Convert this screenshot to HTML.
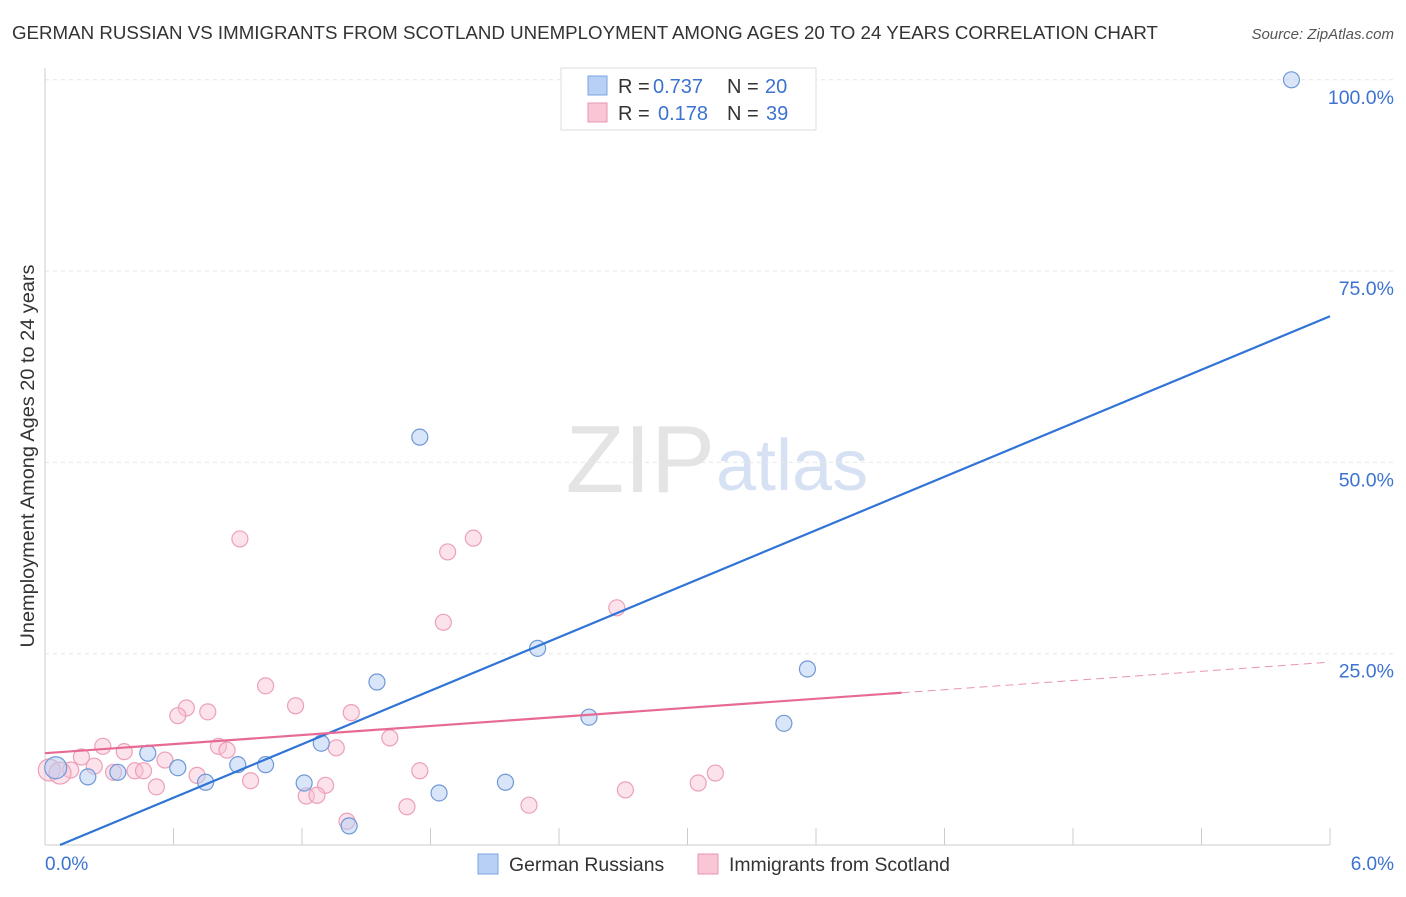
<!DOCTYPE html>
<html><head><meta charset="utf-8"><style>
body{margin:0;background:#fff;font-family:"Liberation Sans",sans-serif}
svg text{font-family:"Liberation Sans",sans-serif}
</style></head><body>
<svg width="1406" height="892" xmlns="http://www.w3.org/2000/svg">
<text x="12" y="39" font-size="18.6" fill="#333" textLength="1146" lengthAdjust="spacingAndGlyphs">GERMAN RUSSIAN VS IMMIGRANTS FROM SCOTLAND UNEMPLOYMENT AMONG AGES 20 TO 24 YEARS CORRELATION CHART</text>
<text x="1394" y="39" font-size="15" fill="#555" font-style="italic" text-anchor="end">Source: ZipAtlas.com</text>
<text x="715" y="492" font-size="96" fill="#e4e4e4" text-anchor="end" font-family="Liberation Serif">ZIP</text>
<text x="716" y="490" font-size="72" fill="#d6e2f3">atlas</text>
<g id="grid"></g><g id="axes"></g><g id="marks"></g>
<text transform="translate(34,456) rotate(-90)" font-size="19" fill="#333" text-anchor="middle" textLength="383" lengthAdjust="spacingAndGlyphs">Unemployment Among Ages 20 to 24 years</text>
<g>
<rect x="561" y="68" width="255" height="62" fill="#fff" stroke="#ddd"/>
<rect x="588" y="76" width="19" height="19" fill="#b8d0f3" stroke="#7aa3e0"/>
<text x="618" y="93" font-size="20" fill="#333">R =</text>
<text x="653" y="93" font-size="20" fill="#3c73d0">0.737</text>
<text x="727" y="93" font-size="20" fill="#333">N =</text>
<text x="765" y="93" font-size="20" fill="#3c73d0">20</text>
<rect x="588" y="103" width="19" height="19" fill="#f8c6d5" stroke="#e995ae"/>
<text x="618" y="120" font-size="20" fill="#333">R =</text>
<text x="658" y="120" font-size="20" fill="#3c73d0">0.178</text>
<text x="727" y="120" font-size="20" fill="#333">N =</text>
<text x="766" y="120" font-size="20" fill="#3c73d0">39</text>
</g>
<g>
<rect x="478" y="854" width="20" height="20" fill="#b8d0f3" stroke="#7aa3e0"/>
<text x="509" y="871" font-size="19.4" fill="#333">German Russians</text>
<rect x="698" y="854" width="20" height="20" fill="#f8c6d5" stroke="#e995ae"/>
<text x="729" y="871" font-size="19.4" fill="#333">Immigrants from Scotland</text>
</g>
</svg>
<script>
const xTicks=[0,0.6,1.2,1.8,2.4,3,3.6,4.2,4.8,5.4,6];
const yTicks=[25,50,75,100];
const yTickLabels=["25.0%","50.0%","75.0%","100.0%"];
const blueX=[5.82,1.75,2.30,1.55,3.56,2.54,3.45,1.29,0.48,0.62,0.90,1.03,0.34,0.20,0.75,1.21,2.15,1.84,1.42,0.05];
const blueY=[100,53.3,25.7,21.3,23.0,16.7,15.9,13.3,12.0,10.1,10.5,10.5,9.5,8.9,8.2,8.1,8.2,6.8,2.5,10.1];
const pinkX=[0.91,2.00,1.88,2.67,1.86,1.03,1.17,0.66,0.76,0.62,1.43,1.61,0.27,0.81,0.85,0.37,1.36,0.56,0.17,0.23,0.12,0.42,0.46,0.32,0.71,1.75,3.13,0.52,0.96,1.31,1.22,1.27,2.71,3.05,1.69,2.26,1.41,0.02,0.07];
const pinkY=[40.0,40.1,38.3,31.0,29.1,20.8,18.2,17.9,17.4,16.9,17.3,14.0,12.9,12.9,12.4,12.2,12.7,11.1,11.5,10.3,9.8,9.7,9.7,9.5,9.1,9.7,9.4,7.6,8.4,7.8,6.4,6.5,7.2,8.1,5.0,5.2,3.1,9.8,9.4];
const blueLine=[0.07,0,6,69.1];
const pinkLine=[0,12,4.0,19.9,6,23.9];
const NS='http://www.w3.org/2000/svg';
const X=v=>45+v/6*1285, Y=v=>845-v*7.652;
function mk(p,t,a){const e=document.createElementNS(NS,t);for(const k in a)e.setAttribute(k,a[k]);p.appendChild(e);return e;}
const g=document.getElementById('grid'),ax=document.getElementById('axes'),m=document.getElementById('marks');
yTicks.forEach((v,i)=>{
 const l=mk(g,'line',{x1:45,x2:1394,y1:Y(v),y2:Y(v),stroke:'#e6e6e6','stroke-dasharray':'4,4'});
 
 
 const t=mk(ax,'text',{x:1394,y:Y(v)+24,'font-size':19.5,fill:'#3c73d0','text-anchor':'end'});t.textContent=yTickLabels[i];
 
 
});
const ya=mk(ax,'line',{x1:45,x2:45,y1:68,y2:845,stroke:'#ccc'});


const xa=mk(ax,'line',{x1:45,x2:1330,y1:845,y2:845,stroke:'#ccc'});


xTicks.forEach(v=>{const t=mk(ax,'line',{x1:X(v),x2:X(v),y1:828,y2:845,stroke:'#ccc'});
 
 });
[[0,"0.0%",'start',45],[6,"6.0%",'end',1394]].forEach(a=>{const t=mk(ax,'text',{x:a[3],y:870,'font-size':19,fill:'#3c73d0','text-anchor':a[2]});t.textContent=a[1];
 
 });
pinkX.forEach((x,i)=>{const c=mk(m,'circle',{cx:X(x),cy:Y(pinkY[i]),r:i>=37?11:8,fill:'rgba(248,190,210,0.45)',stroke:'#eca0b8','stroke-width':1.2});
 
 });
blueX.forEach((x,i)=>{const c=mk(m,'circle',{cx:X(x),cy:Y(blueY[i]),r:i==19?11:8,fill:'rgba(180,205,243,0.5)',stroke:'#6f98d6','stroke-width':1.2});
 
 });
const bl=mk(m,'line',{x1:X(blueLine[0]),y1:Y(blueLine[1]),x2:X(blueLine[2]),y2:Y(blueLine[3]),stroke:'#2f74d6','stroke-width':2.2});


const pl=mk(m,'line',{x1:X(pinkLine[0]),y1:Y(pinkLine[1]),x2:X(pinkLine[2]),y2:Y(pinkLine[3]),stroke:'#e76a93','stroke-width':2.2});


const pd=mk(m,'line',{x1:X(pinkLine[2]),y1:Y(pinkLine[3]),x2:X(pinkLine[4]),y2:Y(pinkLine[5]),stroke:'#e995ae','stroke-width':1,'stroke-dasharray':'8,5'});


</script>
</body></html>
